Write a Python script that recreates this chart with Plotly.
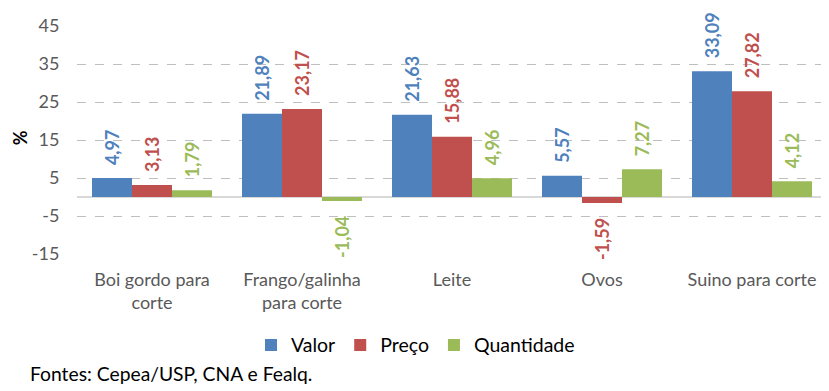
import plotly.graph_objects as go

categories = ["Boi gordo para<br>corte", "Frango/galinha<br>para corte", "Leite", "Ovos", "Suino para corte"]
series_names = ["Valor", "Preço", "Quantidade"]
valor = [4.97, 21.89, 21.63, 5.57, 33.09]
preco = [3.13, 23.17, 15.88, -1.59, 27.82]
quantidade = [1.79, -1.04, 4.96, 7.27, 4.12]
colors = ["#4F81BD", "#C0504D", "#9BBB59"]
y_ticks = [-15, -5, 5, 15, 25, 35, 45]

def fmt(v):
    return f"{v:.2f}".replace(".", ",")

fig = go.Figure()
all_series = [valor, preco, quantidade]
for name, vals, col in zip(series_names, all_series, colors):
    fig.add_trace(go.Bar(name=name, x=categories, y=vals, marker_color=col,
                         marker_line_width=0))

annotations = []
bar_w = 0.8 / 3
for si, (vals, col) in enumerate(zip(all_series, colors)):
    off = (si - 1) * bar_w
    for ci, v in enumerate(vals):
        annotations.append(dict(
            x=ci + off, y=v, xref="x", yref="y", text=fmt(v), showarrow=False,
            textangle=-90, font=dict(family="Lato", size=18, color=col, weight="bold"),
            yanchor="bottom" if v >= 0 else "top", yshift=11 if v >= 0 else -13,
            xanchor="center"))

annotations.append(dict(x=-0.065, y=-0.522, xref="paper", yref="paper",
                        text="Fontes: Cepea/USP, CNA e Fealq.", showarrow=False,
                        xanchor="left", yanchor="middle",
                        font=dict(family="Lato", size=19.3, color="#000000")))
annotations.append(dict(x=-0.0765, y=0.51, xref="paper", yref="paper",
                        text="<b>%</b>", showarrow=False, textangle=-90,
                        xanchor="center", yanchor="middle", borderpad=0,
                        font=dict(family="Lato", size=18, color="#000000")))

fig.update_layout(
    width=821, height=383,
    margin=dict(l=69, r=2, t=18, b=137, autoexpand=False),
    paper_bgcolor="white", plot_bgcolor="white",
    barmode="group", bargap=0.2, bargroupgap=0,
    font=dict(family="Lato", size=18, color="#595959"),
    showlegend=True,
    legend=dict(orientation="h", x=0.232, y=-0.40, xanchor="left", yanchor="middle",
                font=dict(family="Lato", size=19.5, color="#000000"),
                traceorder="normal"),
    annotations=annotations,
    xaxis=dict(type="category", showgrid=False, showline=False,
               ticks="outside", ticklen=9, tickcolor="rgba(0,0,0,0)",
               tickfont=dict(family="Lato", size=18, color="#595959"),
               range=[-0.5, 4.5], automargin=False),
    yaxis=dict(range=[-15, 45], tickvals=y_ticks, ticktext=[str(t) for t in y_ticks],
               showgrid=True, gridcolor="#BFBFBF", griddash="dash", gridwidth=1,
               zeroline=True, zerolinecolor="#D9D9D9", zerolinewidth=2,
               showline=False, ticks="outside", ticklen=13, tickcolor="rgba(0,0,0,0)",
               tickfont=dict(family="Lato", size=18, color="#595959"),
               automargin=False),
)

fig.write_html("out.html")
